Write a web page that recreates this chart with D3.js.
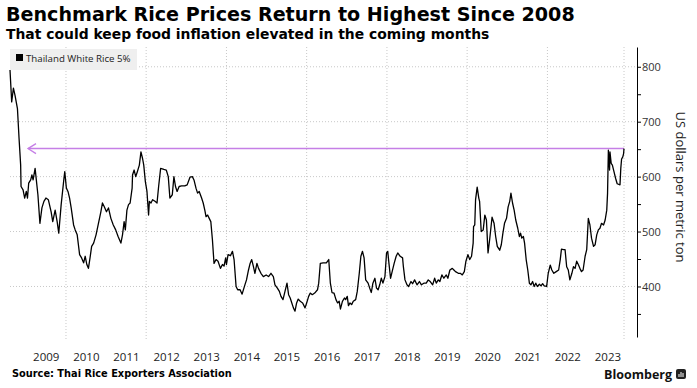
<!DOCTYPE html>
<html>
<head>
<meta charset="utf-8">
<script src="https://cdn.jsdelivr.net/npm/d3@7"></script>
<style>
  body { margin: 0; background: #fff; }
  svg text { font-family: "Open Sans", sans-serif; }
  .head { font-family: "DejaVu Sans", sans-serif; font-weight: bold; fill: #000; }
</style>
</head>
<body>
<svg id="chart" width="697" height="388"></svg>
<script>
// Thailand white rice 5% broken, USD per metric ton (decimal years)
var years = [
  2008.605,2008.647,2008.69,2008.73,2008.79,2008.83,2008.87,2008.88,2008.93,2008.97,
  2009.01,2009.04,2009.07,2009.12,2009.15,2009.18,2009.23,2009.30,2009.35,2009.40,
  2009.45,2009.50,2009.56,2009.63,2009.67,2009.73,2009.78,2009.82,2009.88,2009.95,
  2009.97,2010.01,2010.05,2010.09,2010.13,2010.19,2010.23,2010.28,2010.31,2010.34,
  2010.39,2010.44,2010.48,2010.52,2010.56,2010.60,2010.64,2010.69,2010.75,2010.81,
  2010.87,2010.91,2010.95,2011.01,2011.06,2011.12,2011.18,2011.24,2011.30,2011.37,
  2011.41,2011.45,2011.48,2011.52,2011.56,2011.60,2011.65,2011.66,2011.70,2011.74,
  2011.78,2011.83,2011.87,2011.91,2011.94,2011.98,2012.02,2012.06,2012.08,2012.12,
  2012.16,2012.22,2012.27,2012.31,2012.36,2012.44,2012.50,2012.55,2012.59,2012.65,
  2012.69,2012.73,2012.77,2012.82,2012.88,2012.96,2013.02,2013.09,2013.15,2013.19,
  2013.24,2013.28,2013.32,2013.38,2013.42,2013.46,2013.49,2013.53,2013.57,2013.61,
  2013.65,2013.69,2013.74,2013.79,2013.85,2013.90,2013.94,2013.98,2014.00,2014.04,
  2014.10,2014.15,2014.19,2014.24,2014.28,2014.34,2014.39,2014.46,2014.50,2014.55,
  2014.59,2014.63,2014.67,2014.71,2014.76,2014.80,2014.86,2014.92,2014.99,2015.05,
  2015.11,2015.17,2015.21,2015.27,2015.32,2015.36,2015.41,2015.46,2015.51,2015.55,
  2015.59,2015.63,2015.67,2015.71,2015.75,2015.79,2015.84,2015.90,2015.96,2016.00,
  2016.05,2016.09,2016.14,2016.20,2016.27,2016.30,2016.34,2016.41,2016.49,2016.55,
  2016.59,2016.63,2016.68,2016.73,2016.77,2016.81,2016.84,2016.89,2016.94,2016.97,
  2017.01,2017.04,2017.08,2017.12,2017.16,2017.22,2017.26,2017.31,2017.35,2017.39,
  2017.43,2017.47,2017.53,2017.57,2017.61,2017.65,2017.70,2017.74,2017.78,2017.82,
  2017.86,2017.90,2017.95,2017.99,2018.02,2018.05,2018.09,2018.13,2018.18,2018.23,
  2018.27,2018.33,2018.39,2018.41,2018.45,2018.50,2018.54,2018.60,2018.64,2018.69,
  2018.75,2018.81,2018.86,2018.92,2018.98,2019.03,2019.08,2019.14,2019.19,2019.23,
  2019.28,2019.32,2019.37,2019.42,2019.48,2019.52,2019.57,2019.63,2019.67,2019.71,
  2019.78,2019.83,2019.88,2019.93,2019.97,2020.02,2020.065,2020.11,2020.15,2020.16,
  2020.19,2020.21,2020.25,2020.29,2020.31,2020.35,2020.40,2020.44,2020.48,2020.52,
  2020.56,2020.62,2020.67,2020.71,2020.75,2020.81,2020.85,2020.89,2020.93,2020.98,
  2021.02,2021.06,2021.09,2021.13,2021.17,2021.21,2021.26,2021.30,2021.33,2021.36,
  2021.40,2021.43,2021.47,2021.51,2021.55,2021.59,2021.63,2021.67,2021.71,2021.75,
  2021.80,2021.84,2021.88,2021.92,2021.98,2022.02,2022.07,2022.11,2022.16,2022.22,
  2022.28,2022.32,2022.35,2022.40,2022.44,2022.48,2022.52,2022.56,2022.61,2022.65,
  2022.69,2022.73,2022.77,2022.81,2022.85,2022.89,2022.94,2022.98,2023.02,2023.06,
  2023.10,2023.15,2023.19,2023.23,2023.27,2023.31,2023.35,2023.40,2023.44,2023.48,
  2023.50,2023.52,2023.55,2023.56,2023.59,2023.62,2023.66,2023.70,2023.74,2023.81,
  2023.83,2023.85,2023.88,2023.90,2023.91
];
var prices = [
  794,736,761,748,724,670,621,582,576,561,
  573,561,588,594,603,594,615,567,515,543,
  555,561,558,536,518,539,518,497,549,597,
  609,579,573,561,543,512,503,494,476,458,
  452,443,455,440,433,452,473,479,494,515,
  536,552,546,536,543,524,512,503,491,479,
  494,518,503,539,549,552,579,603,612,600,
  609,621,645,633,621,591,573,530,555,552,
  558,555,552,582,615,613,612,600,561,567,
  600,582,573,582,583,583,585,599,600,594,
  579,570,573,561,552,539,527,530,524,518,
  485,442,449,446,433,440,437,452,440,458,
  456,464,449,400,394,394,386,403,412,430,
  442,449,437,424,442,433,424,418,421,418,
  424,418,403,397,391,382,376,391,406,385,
  379,370,361,355,370,377,373,370,361,370,
  382,388,385,388,394,406,442,443,443,449,
  406,389,388,376,370,373,359,373,379,376,
  382,365,370,367,373,376,391,424,455,464,
  452,412,406,397,389,406,415,397,394,403,
  415,406,418,461,464,442,415,427,442,455,
  461,455,452,436,412,403,400,409,405,412,
  403,409,403,406,406,412,409,403,415,406,
  412,409,421,415,421,415,430,433,430,427,
  424,424,421,427,446,458,449,455,479,509,
  512,558,581,561,555,500,503,530,521,461,
  485,526,515,491,473,466,476,497,515,524,
  545,555,570,552,539,521,506,491,497,488,
  491,479,449,430,406,403,409,400,406,400,
  404,401,405,401,400,424,439,430,424,427,
  430,449,468,467,467,436,430,412,424,436,
  433,446,440,433,427,430,455,467,524,512,
  488,473,476,494,503,506,515,512,521,539,
  570,648,612,645,624,621,609,597,587,585,
  615,632,636,642,651
];
var seriesName = "Thailand White Rice 5%";
var highLevel = 651;               // latest level, marked by the purple arrow
var yTicks = [400, 500, 600, 700, 800];
var yMinor = d3.range(350, 850, 50);
var yearLabels = d3.range(2009, 2024);
var gridYears = d3.range(2010, 2023, 2);

function toDate(t) {
  var yr = Math.floor(t), s = new Date(yr, 0, 1), e = new Date(yr + 1, 0, 1);
  return new Date(+s + (t - yr) * (e - s));
}

function draw() {
  var data = years.map(function(t, i){ return {date: toDate(t), price: prices[i]}; });

  var svg = d3.select("#chart");
  var plotLeft = 10, plotRight = 624, axisX = 637, plotTop = 47, plotBottom = 337;

  var x = d3.scaleTime()
    .domain(d3.extent(data, d => d.date))
    .range([plotLeft, plotRight]);
  var y = d3.scaleLinear()
    .domain([308, 836])
    .range([plotBottom, plotTop]);

  // titles
  svg.append("text").attr("class", "head")
    .attr("x", 6).attr("y", 21)
    .style("font-size", "19.1px")
    .text("Benchmark Rice Prices Return to Highest Since 2008");
  svg.append("text").attr("class", "head")
    .attr("x", 6).attr("y", 39)
    .style("font-size", "13.9px")
    .text("That could keep food inflation elevated in the coming months");

  // grid
  svg.append("g").selectAll("line")
    .data(yTicks)
    .enter().append("line")
    .attr("x1", plotLeft).attr("x2", axisX)
    .attr("y1", d => y(d)).attr("y2", d => y(d))
    .attr("stroke", "#c8c8c8")
    .attr("stroke-dasharray", "1,2");

  var vgrid = gridYears.map(d => x(new Date(d, 0, 1))).concat([plotRight]);
  svg.append("g").selectAll("line")
    .data(vgrid)
    .enter().append("line")
    .attr("x1", d => d).attr("x2", d => d)
    .attr("y1", plotTop).attr("y2", 340)
    .attr("stroke", "#c8c8c8")
    .attr("stroke-dasharray", "1,2");

  // legend
  var lg = svg.append("g");
  lg.append("rect").attr("x", 10).attr("y", 49).attr("width", 127).attr("height", 21).attr("fill", "#efefef");
  lg.append("rect").attr("x", 16).attr("y", 54).attr("width", 7).attr("height", 7).attr("fill", "#000");
  lg.append("text").attr("x", 26).attr("y", 62)
    .style("font-size", "9.7px").attr("fill", "#222")
    .text(seriesName);

  // purple marker line
  var hy = y(highLevel);
  svg.append("line")
    .attr("x1", 28).attr("x2", plotRight)
    .attr("y1", hy).attr("y2", hy)
    .attr("stroke", "#c57fe6").attr("stroke-width", 1.5);
  svg.append("path")
    .attr("d", "M36," + (hy - 5) + "L28," + hy + "L36," + (hy + 5))
    .attr("fill", "none").attr("stroke", "#c57fe6").attr("stroke-width", 1.3);

  // price line
  var line = d3.line().x(d => x(d.date)).y(d => y(d.price));
  svg.append("path")
    .datum(data)
    .attr("d", line)
    .attr("fill", "none")
    .attr("stroke", "#000")
    .attr("stroke-width", 1.3)
    .attr("stroke-linejoin", "round");

  // right axis
  var ya = svg.append("g")
    .attr("transform", "translate(" + axisX + ",0)")
    .call(d3.axisRight(y).tickValues(yMinor).tickSize(4).tickSizeOuter(0).tickPadding(1)
      .tickFormat(d => d % 100 === 0 ? d : ""));
  ya.select(".domain").attr("stroke", "#000");
  ya.selectAll("line").attr("stroke", "#000");
  ya.selectAll("text").style("font-size", "11px").attr("fill", "#333").style("font-family", "'Open Sans'");

  svg.append("text")
    .attr("transform", "translate(681,187) rotate(90)")
    .attr("text-anchor", "middle")
    .attr("dominant-baseline", "central")
    .style("font-size", "13px").attr("fill", "#222")
    .text("US dollars per metric ton");

  // year labels, centred in each year
  var xa = svg.append("g")
    .attr("transform", "translate(0,353)")
    .call(d3.axisBottom(x).tickValues(yearLabels.map(d => new Date(d, 6, 1)))
      .tickSize(0).tickPadding(0).tickFormat(d3.timeFormat("%Y")));
  xa.select(".domain").remove();
  xa.selectAll("text").style("font-size", "11.5px").attr("fill", "#222").style("font-family", "'Open Sans'");

  // footer
  svg.append("text").attr("class", "head")
    .attr("x", 12).attr("y", 377)
    .style("font-size", "9.8px")
    .text("Source: Thai Rice Exporters Association");
  svg.append("text")
    .attr("x", 672).attr("y", 379)
    .attr("text-anchor", "end")
    .style("font-size", "12.5px").style("font-weight", "bold").attr("fill", "#111")
    .text("Bloomberg");
  var logo = svg.append("g").attr("transform", "translate(676,369)");
  logo.append("rect").attr("width", 10).attr("height", 10).attr("rx", 2).attr("fill", "#222");
  logo.selectAll("line").data([[3, 5, 8], [5, 3, 8], [7, 4, 8]])
    .enter().append("line")
    .attr("x1", d => d[0]).attr("x2", d => d[0])
    .attr("y1", d => d[1]).attr("y2", d => d[2])
    .attr("stroke", "#fff").attr("stroke-width", 1);
}

draw();
</script>
</body>
</html>
